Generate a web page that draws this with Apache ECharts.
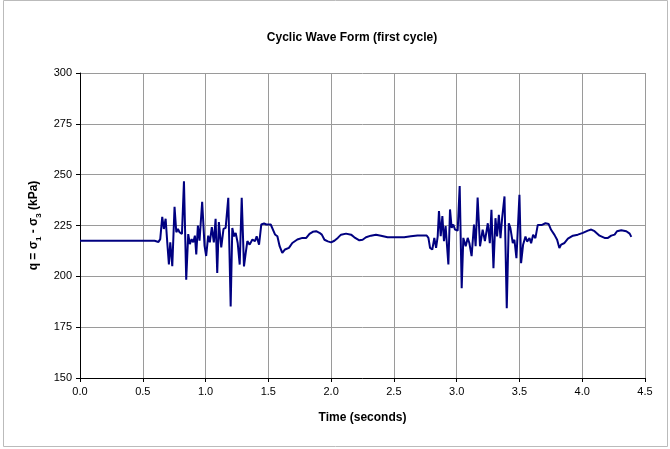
<!DOCTYPE html>
<html>
<head>
<meta charset="utf-8">
<script src="https://cdn.jsdelivr.net/npm/echarts@6/dist/echarts.min.js"></script>
<style>html,body{margin:0;padding:0;background:#fff}#c{width:670px;height:449px}</style>
</head>
<body>
<div id="c"></div>
<script>
var timeSec = [0.0,0.3,0.594,0.607,0.625,0.639,
0.655,0.668,0.682,0.695,0.708,0.719,0.735,0.753,0.767,0.780,0.793,0.812,0.828,0.846,0.862,0.875,0.889,0.902,0.915,0.926,0.939,0.952,0.973,0.992,
1.005,1.021,1.034,1.050,1.066,1.080,1.093,1.106,1.125,1.143,1.160,1.181,1.200,1.213,1.227,1.240,1.256,1.272,1.288,1.306,1.320,1.333,1.351,1.373,1.394,1.407,1.426,1.444,1.466,1.484,
1.519,1.532,1.553,1.572,1.590,1.611,1.633,1.664,1.691,1.731,1.771,1.802,1.828,1.854,1.881,1.907,1.926,1.947,1.974,
2.0,2.026,2.053,2.079,2.119,2.159,2.185,2.225,2.251,2.278,2.317,2.357,2.397,2.450,2.503,2.582,2.635,2.688,2.761,
2.775,2.788,2.806,2.822,2.836,2.849,2.859,2.873,2.886,2.899,2.912,2.934,2.947,2.960,2.973,2.987,
3.008,3.024,3.040,3.053,3.072,3.088,3.101,3.119,3.138,3.151,3.167,3.186,3.207,3.225,3.248,3.264,3.277,3.293,3.309,3.322,3.336,3.349,3.362,3.381,3.399,3.415,3.428,3.447,3.460,3.476,
3.500,3.513,3.529,3.548,3.561,3.580,3.593,3.609,3.627,3.646,3.680,3.707,3.733,3.752,3.779,3.800,3.818,3.832,3.859,3.886,3.926,3.965,
4.005,4.045,4.072,4.098,4.138,4.178,4.205,4.231,4.258,4.277,4.311,4.351,4.378,4.391];
var qKPa = [217.5,217.5,217.5,216.7,216.9,218.3,
229.2,223.3,228.3,216.7,205.8,216.7,205.0,234.2,221.7,223.3,221.7,220.8,246.7,198.3,220.8,215.8,218.3,216.7,220.0,210.8,225.0,217.5,236.7,215.0,
210.0,220.0,216.7,224.2,216.7,228.3,201.7,226.7,214.2,223.3,223.8,238.6,185.2,223.8,219.7,221.4,216.4,205.8,238.6,204.9,211.5,217.3,215.6,218.1,217.3,219.7,215.6,225.5,226.0,225.5,
225.5,224.7,220.6,219.7,214.8,211.5,213.2,214.0,216.4,218.1,218.9,218.9,220.9,221.9,222.2,221.4,220.5,218.0,217.2,
216.7,217.5,218.9,220.5,221.0,220.5,219.2,217.7,218.0,219.2,220.0,220.5,220.0,219.2,219.2,219.2,219.7,220.1,220.1,
218.9,214.0,213.2,218.9,214.0,219.7,232.1,219.7,229.6,217.3,224.7,205.8,232.9,223.8,225.5,223.0,
222.5,244.4,194.2,218.9,214.8,218.9,216.4,209.9,225.5,214.8,238.7,214.8,223.0,217.3,226.1,216.3,232.7,204.0,228.6,219.6,230.2,218.8,228.6,239.3,184.3,226.1,223.7,216.3,218.0,208.9,
240.1,206.5,215.5,219.6,217.1,218.8,216.3,220.4,218.8,225.3,225.3,226.1,225.7,222.9,220.4,218.0,213.9,215.6,216.4,218.5,220.0,220.5,
221.4,222.5,223.0,222.2,220.0,218.9,218.9,220.0,220.5,222.2,222.7,222.2,221.0,219.4];
var xTicks = [0.0,0.5,1.0,1.5,2.0,2.5,3.0,3.5,4.0,4.5];
var yTicks = [150,175,200,225,250,275,300];

var seriesData = timeSec.map(function(t,i){return [t,qKPa[i]];});
var chart = echarts.init(document.getElementById('c'), null, {renderer:'canvas'});
var font = 'Liberation Sans, Arial, sans-serif';
chart.setOption({
  animation:false,
  backgroundColor:'#fff',
  title:{text:'Cyclic Wave Form (first cycle)',left:347,top:27,textAlign:'center',
    textStyle:{fontFamily:font,fontSize:12,fontWeight:'bold',color:'#000'}},
  grid:{left:80,right:25,top:73,bottom:71},
  graphic:[{type:'rect',shape:{x:3.5,y:0.5,width:664,height:446},style:{fill:'none',stroke:'#bbbbbb',lineWidth:1},silent:true}],
  xAxis:{type:'value',min:xTicks[0],max:xTicks[xTicks.length-1],interval:0.5,
    name:'Time (seconds)',nameLocation:'middle',nameGap:34,
    nameTextStyle:{fontFamily:font,fontSize:12,fontWeight:'bold',color:'#000'},
    axisLine:{show:true,onZero:false,lineStyle:{color:'#000',width:1}},
    axisTick:{show:true,length:4,lineStyle:{color:'#000'}},
    axisLabel:{fontFamily:font,fontSize:11,color:'#000',margin:8,formatter:function(v){return v.toFixed(1);}},
    splitLine:{show:true,lineStyle:{color:'#9a9a9a',width:1}}},
  yAxis:{type:'value',min:yTicks[0],max:yTicks[yTicks.length-1],interval:25,
    name:'{m|q = σ}{s|1}{m| - σ}{s|3}{m| (kPa)}',nameLocation:'middle',nameGap:39,nameRotate:90,
    nameTextStyle:{fontFamily:font,fontSize:12,fontWeight:'bold',color:'#000',
      rich:{m:{fontFamily:font,fontSize:12,fontWeight:'bold',color:'#000',lineHeight:16,verticalAlign:'bottom'},
            s:{fontFamily:font,fontSize:8,fontWeight:'bold',color:'#000',lineHeight:16,verticalAlign:'bottom',padding:[0,0,-3,0]}}},
    axisLine:{show:true,onZero:false,lineStyle:{color:'#000',width:1}},
    axisTick:{show:true,length:4,lineStyle:{color:'#000'}},
    axisLabel:{fontFamily:font,fontSize:11,color:'#000',margin:8},
    splitLine:{show:true,lineStyle:{color:'#9a9a9a',width:1}}},
  series:[{type:'line',data:seriesData,showSymbol:false,symbol:'none',
    lineStyle:{color:'#000080',width:2},itemStyle:{color:'#000080'}}]
});
</script>
</body>
</html>
